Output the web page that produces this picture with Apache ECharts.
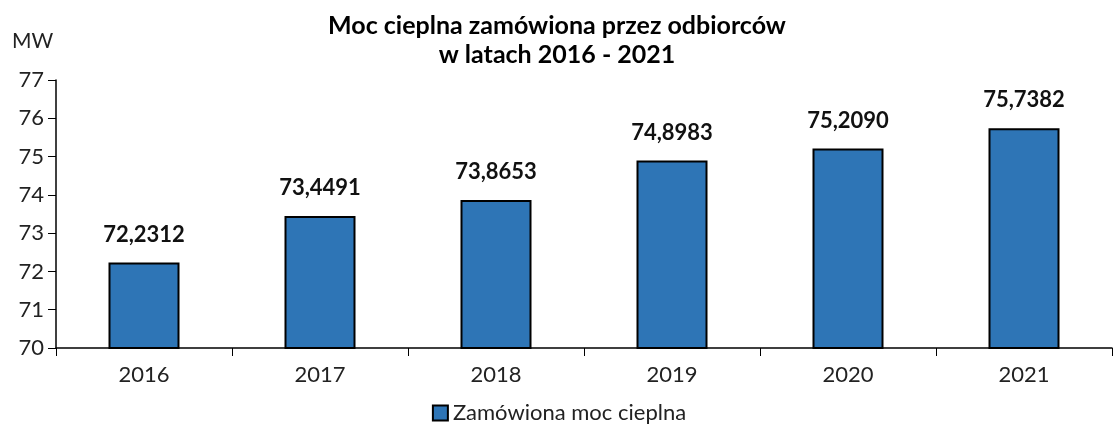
<!DOCTYPE html>
<html>
<head>
<meta charset="utf-8">
<script src="https://cdn.jsdelivr.net/npm/echarts@6/dist/echarts.min.js"></script>
<style>
  html, body { margin: 0; padding: 0; background: #fff; }
  #chart { width: 1118px; height: 427px; }
</style>
</head>
<body>
<div id="chart"></div>
<script>
const years = ['2016', '2017', '2018', '2019', '2020', '2021']
const power = [72.2312, 73.4491, 73.8653, 74.8983, 75.2090, 75.7382]
const seriesName = 'Zamówiona moc cieplna'
const font = 'Lato, "Open Sans", sans-serif'

const chart = echarts.init(document.getElementById('chart'))
chart.setOption({
  animation: false,
  textStyle: { fontFamily: font },
  title: {
    text: 'Moc cieplna zamówiona przez odbiorców\nw latach 2016 - 2021',
    left: 552,
    textAlign: 'center',
    top: 6,
    textStyle: { fontSize: 25, fontWeight: 'bold', color: '#000', lineHeight: 29, fontFamily: font }
  },
  legend: {
    bottom: -2,
    left: 'center',
    itemWidth: 15,
    itemHeight: 15,
    itemGap: 4,
    textStyle: { fontSize: 22, color: '#222', fontFamily: font },
    data: [{ name: seriesName, icon: 'rect', itemStyle: { borderColor: '#000', borderWidth: 2 } }]
  },
  grid: { left: 56, right: 6, top: 80, bottom: 79 },
  xAxis: {
    type: 'category',
    data: years,
    axisLine: { lineStyle: { color: '#000', width: 1.5 } },
    axisTick: { show: true, length: 8, lineStyle: { color: '#000' } },
    axisLabel: { fontSize: 22, color: '#222', margin: 16, fontFamily: font }
  },
  yAxis: {
    type: 'value',
    min: 70,
    max: 77,
    interval: 1,
    name: 'MW',
    nameLocation: 'end',
    nameGap: 28,
    nameTextStyle: { fontSize: 21, color: '#222', align: 'left', padding: [0, 0, 0, -44], fontFamily: font },
    axisLine: { show: true, lineStyle: { color: '#000', width: 1.5 } },
    axisTick: { show: true, length: 8, lineStyle: { color: '#000' } },
    axisLabel: { fontSize: 22, color: '#222', margin: 12, fontFamily: font },
    splitLine: { show: false }
  },
  series: [{
    name: seriesName,
    type: 'bar',
    data: power,
    barWidth: 71,
    itemStyle: { color: '#2E75B6', borderColor: '#000', borderWidth: 2 },
    label: {
      show: true,
      position: 'top',
      distance: 17,
      fontSize: 22,
      fontWeight: 'bold',
      color: '#111',
      fontFamily: font,
      formatter: p => p.value.toFixed(4).replace('.', ',')
    }
  }]
})
</script>
</body>
</html>
